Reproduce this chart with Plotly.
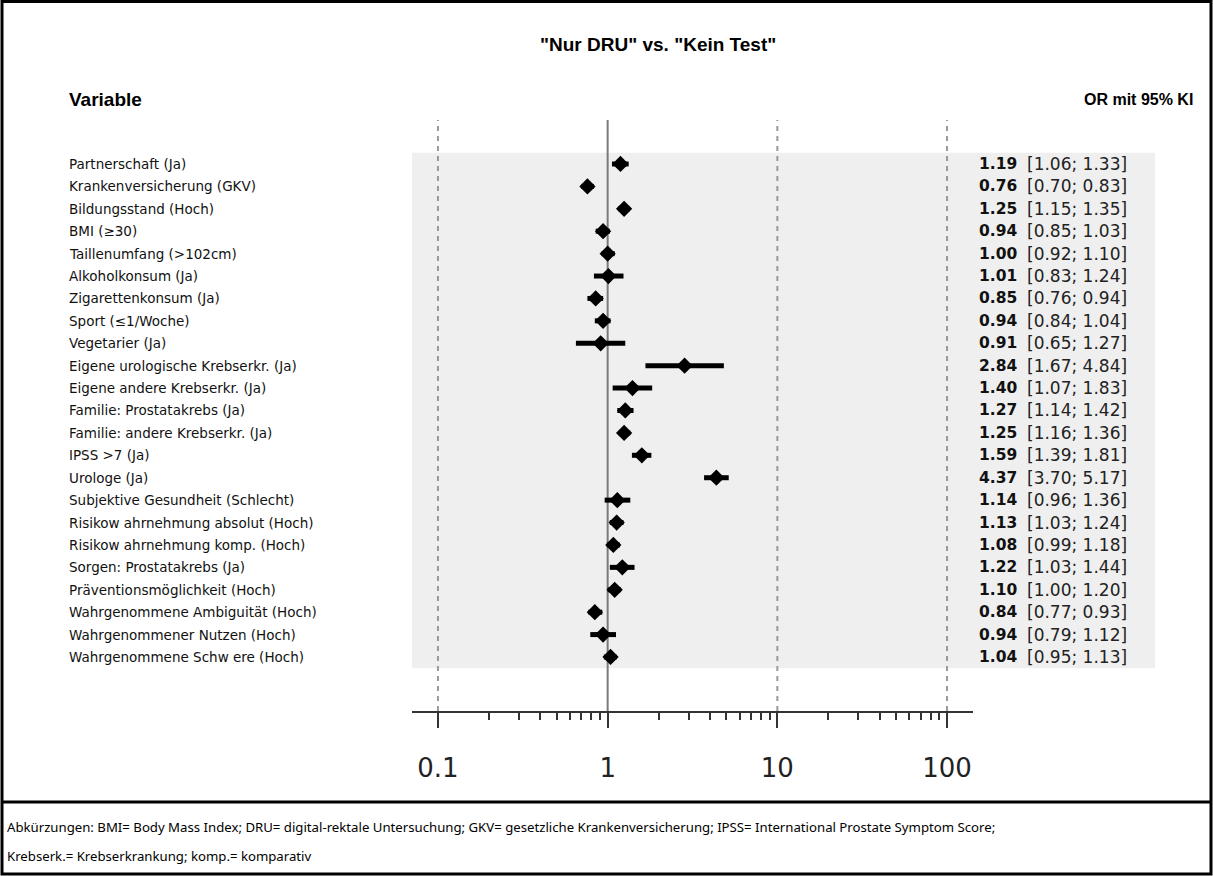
import plotly.graph_objects as go

# ---- data ----
variables = [
    "Partnerschaft (Ja)",
    "Krankenversicherung (GKV)",
    "Bildungsstand (Hoch)",
    "BMI (≥30)",
    "Taillenumfang (>102cm)",
    "Alkoholkonsum (Ja)",
    "Zigarettenkonsum (Ja)",
    "Sport (≤1/Woche)",
    "Vegetarier (Ja)",
    "Eigene urologische Krebserkr. (Ja)",
    "Eigene andere Krebserkr. (Ja)",
    "Familie: Prostatakrebs (Ja)",
    "Familie: andere Krebserkr. (Ja)",
    "IPSS >7 (Ja)",
    "Urologe (Ja)",
    "Subjektive Gesundheit (Schlecht)",
    "Risikow ahrnehmung absolut (Hoch)",
    "Risikow ahrnehmung komp. (Hoch)",
    "Sorgen: Prostatakrebs (Ja)",
    "Präventionsmöglichkeit (Hoch)",
    "Wahrgenommene Ambiguität (Hoch)",
    "Wahrgenommener Nutzen (Hoch)",
    "Wahrgenommene Schw ere (Hoch)",
]
odds_ratio = [1.19, 0.76, 1.25, 0.94, 1.00, 1.01, 0.85, 0.94, 0.91, 2.84, 1.40, 1.27,
              1.25, 1.59, 4.37, 1.14, 1.13, 1.08, 1.22, 1.10, 0.84, 0.94, 1.04]
ci_lower = [1.06, 0.70, 1.15, 0.85, 0.92, 0.83, 0.76, 0.84, 0.65, 1.67, 1.07, 1.14,
            1.16, 1.39, 3.70, 0.96, 1.03, 0.99, 1.03, 1.00, 0.77, 0.79, 0.95]
ci_upper = [1.33, 0.83, 1.35, 1.03, 1.10, 1.24, 0.94, 1.04, 1.27, 4.84, 1.83, 1.42,
            1.36, 1.81, 5.17, 1.36, 1.24, 1.18, 1.44, 1.20, 0.93, 1.12, 1.13]
tick_values = [0.1, 1, 10, 100]
tick_labels = ["0.1", "1", "10", "100"]
minor_ticks = [m * d for d in (0.1, 1, 10) for m in range(2, 10)]
dashed_refs = [0.1, 10, 100]
null_value = 1

title_text = '"Nur DRU" vs. "Kein Test"'
footer_lines = [
    "Abkürzungen: BMI= Body Mass Index; DRU= digital-rektale Untersuchung; GKV= gesetzliche Krankenversicherung; IPSS= International Prostate Symptom Score;",
    "Krebserk.= Krebserkrankung; komp.= komparativ",
]

# ---- layout geometry ----
W, H = 1213, 876
ML, MR, MT, MB = 412, 240, 120, 165
PW, PH = W - ML - MR, H - MT - MB


def px(x):
    return (x - ML) / PW


def py(y):
    return (H - MB - y) / PH


rows = list(range(len(variables)))
FONT = "DejaVu Sans, sans-serif"
HFONT = "Liberation Sans, Arial, sans-serif"

fig = go.Figure()
fig.add_trace(go.Scatter(
    x=odds_ratio, y=rows, mode="markers",
    marker=dict(symbol="diamond", size=12.5, color="black"),
    error_x=dict(type="data", symmetric=False,
                 array=[u - o for u, o in zip(ci_upper, odds_ratio)],
                 arrayminus=[o - l for o, l in zip(odds_ratio, ci_lower)],
                 thickness=5, width=0, color="black"),
    showlegend=False, hoverinfo="skip", cliponaxis=False,
))

shapes = []
shapes.append(dict(type="rect", xref="paper", yref="y", x0=0, x1=px(1155),
                   y0=-0.5, y1=len(variables) - 0.5, fillcolor="#efefef",
                   line=dict(width=0), layer="below"))
for v in dashed_refs:
    shapes.append(dict(type="line", xref="x", yref="paper", x0=v, x1=v, y0=0, y1=1,
                       line=dict(color="#999999", width=2, dash="5px,5px"), layer="below"))
shapes.append(dict(type="line", xref="x", yref="paper", x0=null_value, x1=null_value, y0=0, y1=1,
                   line=dict(color="#7a7a7a", width=2), layer="below"))
# frame
shapes.append(dict(type="rect", xref="paper", yref="paper", x0=px(2), x1=px(1211),
                   y0=py(874), y1=py(1.5), line=dict(color="black", width=3)))
shapes.append(dict(type="line", xref="paper", yref="paper", x0=px(2), x1=px(1211),
                   y0=py(802), y1=py(802), line=dict(color="black", width=3)))

annotations = []
for i, name in enumerate(variables):
    annotations.append(dict(xref="paper", yref="y", x=px(67), y=i, text=name,
                            xanchor="left", yanchor="middle", showarrow=False,
                            font=dict(family=FONT, size=13.5, color="#111")))
    annotations.append(dict(xref="paper", yref="y", x=px(977), y=i,
                            text=f"<b>{odds_ratio[i]:.2f}</b>",
                            xanchor="left", yanchor="middle", showarrow=False,
                            font=dict(family=FONT, size=15.5, color="#111")))
    annotations.append(dict(xref="paper", yref="y", x=px(1025), y=i,
                            text=f"[{ci_lower[i]:.2f}; {ci_upper[i]:.2f}]",
                            xanchor="left", yanchor="middle", showarrow=False,
                            font=dict(family=FONT, size=17, color="#222")))
annotations.append(dict(xref="paper", yref="paper", x=px(67), y=py(100), text="<b>Variable</b>",
                        xanchor="left", yanchor="middle", showarrow=False,
                        font=dict(family=HFONT, size=19, color="black")))
annotations.append(dict(xref="paper", yref="paper", x=px(1195), y=py(100), text="<b>OR mit 95% KI</b>",
                        xanchor="right", yanchor="middle", showarrow=False,
                        font=dict(family=HFONT, size=16, color="black")))
annotations.append(dict(xref="paper", yref="paper", x=px(658), y=py(45), text=f"<b>{title_text}</b>",
                        xanchor="center", yanchor="middle", showarrow=False,
                        font=dict(family=HFONT, size=19, color="black")))
for line, yy in zip(footer_lines, (827, 856)):
    annotations.append(dict(xref="paper", yref="paper", x=px(5), y=py(yy), text=line,
                            xanchor="left", yanchor="middle", showarrow=False,
                            font=dict(family="Noto Sans, sans-serif", size=13.2, color="black")))

fig.update_layout(
    width=W, height=H,
    margin=dict(l=ML, r=MR, t=MT, b=MB, pad=0),
    paper_bgcolor="white", plot_bgcolor="rgba(0,0,0,0)",
    shapes=shapes, annotations=annotations, showlegend=False,
    xaxis=dict(type="log", range=[-1.153, 2.153], showgrid=False, zeroline=False,
               showline=True, linecolor="#333", linewidth=1.5,
               ticks="outside", tickvals=tick_values, ticktext=tick_labels,
               ticklen=15, tickwidth=2, tickcolor="#333",
               ticklabelstandoff=18,
               tickfont=dict(family=FONT, size=26, color="#222"),
               minor=dict(ticks="outside", tickvals=minor_ticks, ticklen=7,
                          tickwidth=1.5, tickcolor="#333", showgrid=False)),
    yaxis=dict(range=[24.41, -1.963], visible=False, showgrid=False, zeroline=False),
)

fig.write_html("out.html", config={"displayModeBar": False},
               post_script="document.body.style.margin='0';")
